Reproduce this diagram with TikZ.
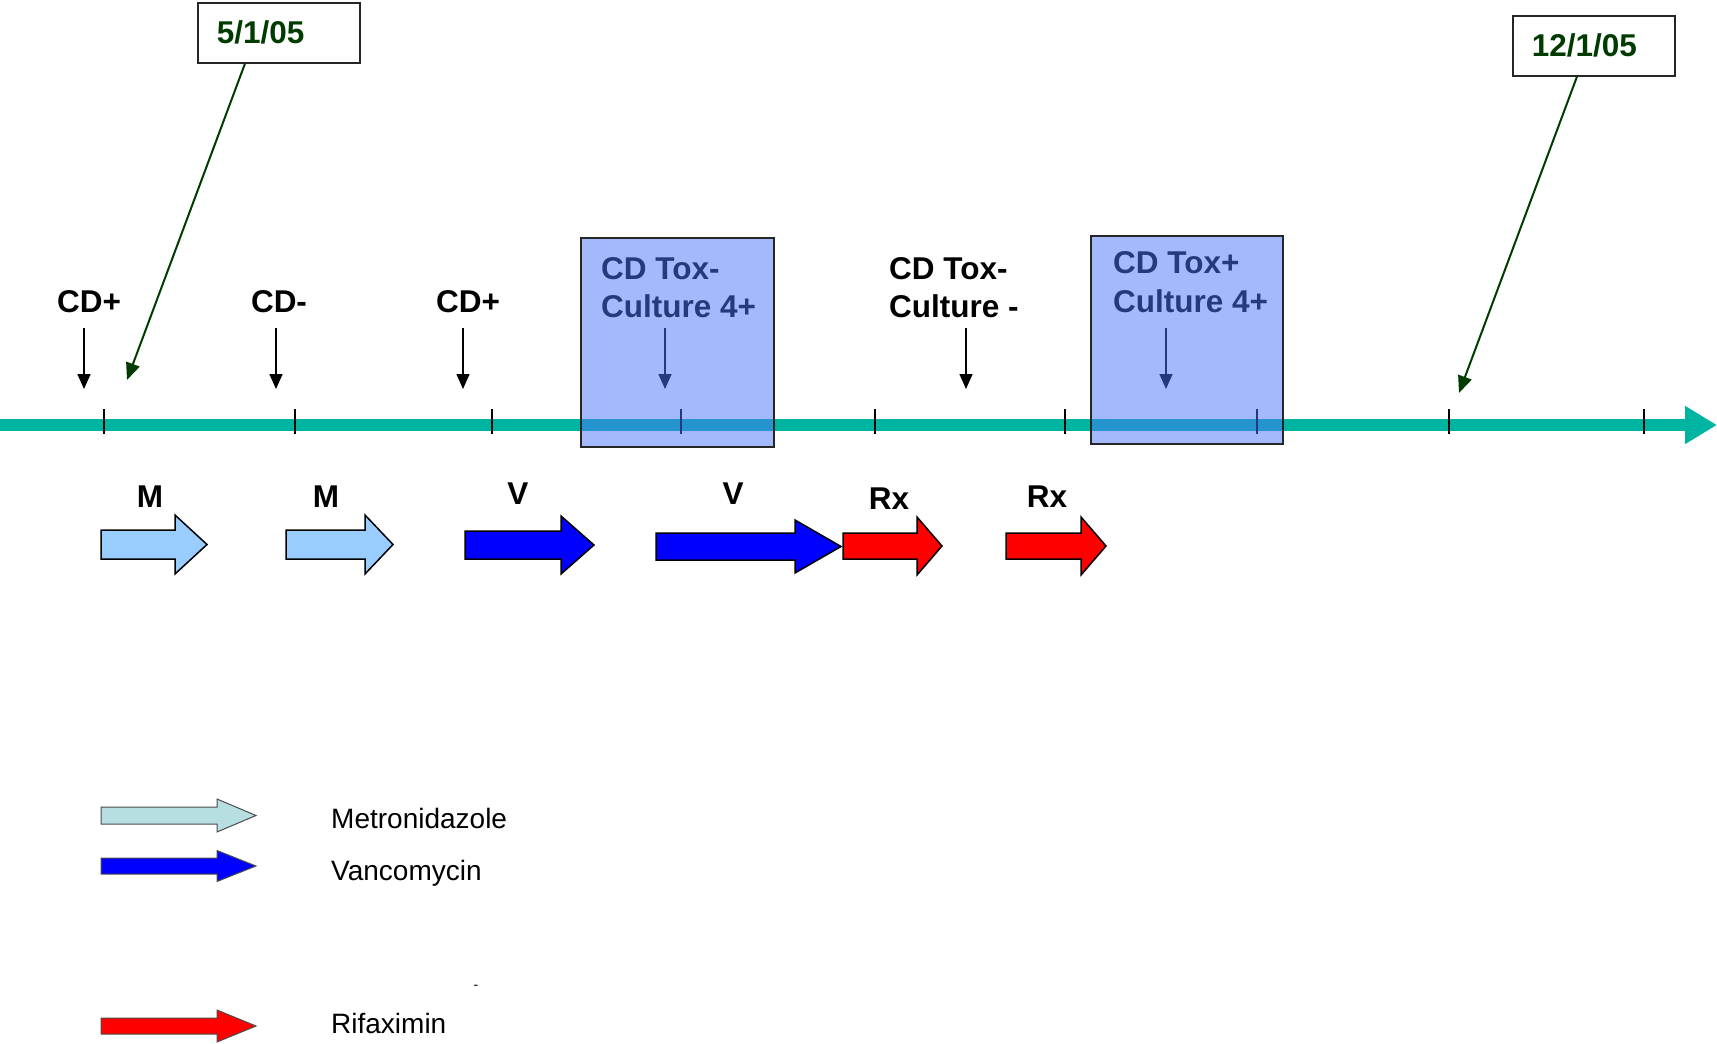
\documentclass[tikz,border=0pt]{standalone}
\usepackage{fontspec}
\setmainfont{Liberation Sans}
\usetikzlibrary{arrows.meta}
\definecolor{tealline}{RGB}{0,180,162}
\definecolor{dgreen}{RGB}{0,60,0}
\definecolor{boxblue}{RGB}{74,116,250}
\definecolor{mblue}{RGB}{153,204,255}
\definecolor{metleg}{RGB}{183,222,224}
\newcommand\blkarr[7]{%
  \filldraw[#7,line join=miter] (#1,{#4-#5}) -- (#2,{#4-#5}) -- (#2,{#4-#6}) -- (#3,#4)
    -- (#2,{#4+#6}) -- (#2,{#4+#5}) -- (#1,{#4+#5}) -- cycle;}
\begin{document}
\begin{tikzpicture}[x=1pt,y=-1pt,
  lbl/.style={font=\fontsize{31.5pt}{36pt}\bfseries\selectfont, inner sep=0pt, anchor=base},
  boxtxt/.style={font=\fontsize{31.5pt}{36pt}\bfseries\selectfont, inner sep=0pt, anchor=base west},
  legtxt/.style={font=\fontsize{28pt}{32pt}\selectfont, inner sep=0pt, anchor=base west},
  datebox/.style={draw=black!85, line width=1.6pt, anchor=north west, text=dgreen,
    font=\fontsize{31.5pt}{36pt}\bfseries\selectfont, inner xsep=19pt, inner ysep=0pt,
    text width=124pt, minimum height=60pt, align=left},
  garr/.style={draw=dgreen, line width=2pt, -{Triangle[length=17pt,width=14pt]}},
  downarr/.style={draw=black, line width=1.6pt, -{Triangle[length=15pt,width=13pt]}},
  tickmark/.style={draw=black, line width=1.8pt},
  cdbox/.style={fill=boxblue, fill opacity=0.5, draw=black!85, line width=2pt,
    anchor=north west, inner sep=0pt},
  tarrow/.style={draw=black, line width=1.5pt},
  larrow/.style={draw=black!70, line width=1pt}
]
\useasboundingbox (0,0) rectangle (1717,1044);

% timeline
\coordinate (tl0) at (0,425);
\coordinate (tl1) at (1717,425);
\draw[tealline, line width=12pt, -{Triangle[length=32pt,width=36pt]}] (tl0) -- (tl1);
\foreach \x in {104,295,492,681,875,1065,1257,1449,1644}
  \draw[tickmark] (\x,409) -- (\x,434);

% top labels and arrows
\node[lbl] (l1) at (89,312) {CD+};
\node[lbl] (l2) at (279,312) {CD-};
\node[lbl] (l3) at (468,312) {CD+};
\foreach \n/\x in {a1/84,a2/276,a3/463,a4/665,a5/966,a6/1166} {
  \coordinate (\n s) at (\x,328);
  \coordinate (\n e) at (\x,389);
  \draw[downarr] (\n s) -- (\n e);
}
\node[boxtxt] (t1a) at (601,279) {CD Tox-};
\node[boxtxt] (t1b) at (601,317) {Culture 4+};
\node[boxtxt] (t2a) at (889,279) {CD Tox-};
\node[boxtxt] (t2b) at (889,317) {Culture -};
\node[boxtxt] (t3a) at (1113,273) {CD Tox+};
\node[boxtxt] (t3b) at (1113,312) {Culture 4+};

% translucent boxes
\node[cdbox, minimum width=193pt, minimum height=209pt] (b1) at (580,237) {};
\node[cdbox, minimum width=192pt, minimum height=208pt] (b2) at (1090,235) {};

% date callouts
\node[datebox] (d1) at (197,2) {5/1/05};
\node[datebox] (d2) at (1512,15) {12/1/05};
\coordinate (g1) at (127,380);
\coordinate (g2) at (1459,393);
\draw[garr] ([xshift=48pt]d1.south west) -- (g1);
\draw[garr] ([xshift=65pt]d2.south west) -- (g2);

% treatment arrows
\node[lbl] (m1) at (150,507) {M};
\node[lbl] (m2) at (326,507) {M};
\node[lbl] (v1) at (518,504) {V};
\node[lbl] (v2) at (733,504) {V};
\node[lbl] (r1) at (889,509) {Rx};
\node[lbl] (r2) at (1047,507) {Rx};
\blkarr{101}{175}{207}{544.5}{14.5}{29.5}{tarrow,fill=mblue}
\blkarr{286}{365}{393}{544.5}{14.5}{29.5}{tarrow,fill=mblue}
\blkarr{465}{561}{594}{545}{14}{29}{tarrow,fill=blue}
\blkarr{656}{795}{841}{546.5}{13.5}{26.5}{tarrow,fill=blue}
\blkarr{843}{917}{942}{546}{13}{29}{tarrow,fill=red}
\blkarr{1006}{1081}{1106}{546}{13}{29}{tarrow,fill=red}

% legend
\blkarr{101}{217}{256}{815.5}{8.5}{16.5}{larrow,fill=metleg}
\blkarr{101}{217}{256}{866}{8}{15.5}{larrow,fill=blue}
\blkarr{101}{217}{256}{1026}{8}{16}{larrow,fill=red}
\node[legtxt] (k1) at (331,828) {Metronidazole};
\node[legtxt] (k2) at (331,880) {Vancomycin};
\node[legtxt] (k3) at (331,1033) {Rifaximin};
\node[font=\fontsize{14pt}{16pt}\selectfont, inner sep=0pt] (dash) at (476,987) {-};
\end{tikzpicture}
\end{document}
